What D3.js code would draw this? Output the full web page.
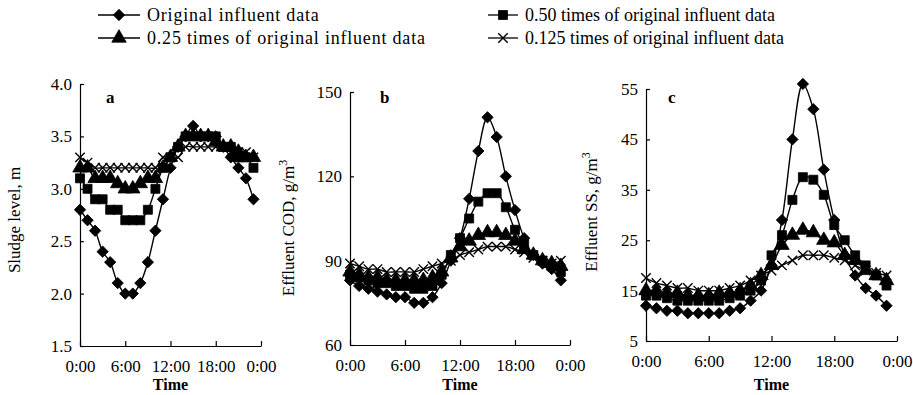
<!DOCTYPE html>
<html lang="en">
<head>
<meta charset="UTF-8">
<title>Sludge level and effluent quality</title>
<script src="https://cdn.jsdelivr.net/npm/d3@7"></script>
<style>
  body { margin: 0; background: #fff; }
  text { font-family: "Liberation Serif", "Times New Roman", serif; fill: #000; }
</style>
</head>
<body>
<script>
// hours of the day, one point per hour
var hours = d3.range(0, 24);
var xTicks = [0, 6, 12, 18, 24];
var xTickLabels = ["0:00", "6:00", "12:00", "18:00", "0:00"];

var seriesNames = ["Original influent data", "0.50 times of original influent data",
                   "0.25 times of original influent data", "0.125 times of original influent data"];

// a: sludge level, m
var sludgeOrig    = [2.8,2.7,2.6,2.4,2.3,2.1,2.0,2.0,2.1,2.3,2.6,2.9,3.2,3.4,3.5,3.6,3.5,3.5,3.5,3.4,3.3,3.2,3.1,2.9];
var sludgeHalf    = [3.1,3.0,2.9,2.9,2.8,2.8,2.7,2.7,2.7,2.8,3.0,3.2,3.3,3.4,3.5,3.5,3.5,3.5,3.5,3.4,3.4,3.3,3.3,3.2];
var sludgeQuarter = [3.2,3.2,3.1,3.1,3.1,3.05,3.0,3.0,3.05,3.1,3.1,3.2,3.3,3.4,3.5,3.5,3.5,3.5,3.45,3.4,3.4,3.35,3.3,3.3];
var sludgeEighth  = [3.3,3.25,3.2,3.2,3.2,3.2,3.2,3.2,3.2,3.2,3.2,3.3,3.3,3.3,3.4,3.4,3.4,3.4,3.4,3.4,3.35,3.35,3.35,3.3];

// b: effluent COD, g/m3
var codOrig    = [83,81,80,79,78,77,77,75,75,77,82,90,98,112,129,141,134,120,108,98,92,89,87,83];
var codHalf    = [85,84,83,82,82,81,81,80,80,81,85,92,98,105,111,114,114,109,101,96,92,90,88,86];
var codQuarter = [86,85,84,84,83,83,83,83,83,84,86,91,95,97,99,100,100,99,97,94,92,90,89,88];
var codEighth  = [89,88,87,87,86,86,86,86,87,88,89,90,92,93,94,95,95,95,94,93,91,90,89,90];

// c: effluent SS, g/m3
var ssOrig    = [12,11.5,11,11,10.5,10.5,10.5,10.5,11,11.5,13,15,20,29,45,56,51,39,29,22,18,15.5,14,12];
var ssHalf    = [14,14,13.5,13,13,13,13,13,13.5,14,15,17,22,26,33,37.5,37,34,28,25,22,20,18,16];
var ssQuarter = [15,15,14.5,14.5,14,14,14,14.5,14.5,15,16,18,20,24,26,27,26.5,25,24.5,22,21,19,18,17];
var ssEighth  = [17.5,16.5,16,15.5,15.5,15,15,15,15.5,16,17,18,19,20,21,22,22,22,21.5,21,20,19,18.5,18];

var sludgeTicks = [1.5, 2.0, 2.5, 3.0, 3.5, 4.0];
var codTicks = [60, 90, 120, 150];
var ssTicks = [5, 15, 25, 35, 45, 55];

var width = 913, height = 395;
var svg = d3.select("body").append("svg")
    .attr("width", width)
    .attr("height", height);

var symbolTypes = [d3.symbolSquare, d3.symbolSquare, d3.symbolTriangle, d3.symbolX];
var symbolSizes = [64, 81, 90, 60];
var symbolRotate = [45, 0, 0, 0];

function drawMarker(g, i, x, y) {
    var p = g.append("path")
        .attr("d", d3.symbol().type(symbolTypes[i]).size(symbolSizes[i])())
        .attr("transform", "translate(" + x + "," + y + ") rotate(" + symbolRotate[i] + ")");
    if (i == 3) {
        p.attr("fill", "none").attr("stroke", "#000").attr("stroke-width", 1.4);
    } else {
        p.attr("fill", "#000").attr("stroke", "#000").attr("stroke-width", 0.8);
    }
}

function drawPanel(p) {
    var x = d3.scaleLinear().domain([0, 24]).range([p.x0, p.x1]);
    var y = d3.scaleLinear().domain(p.yDomain).range([p.y0, p.y1]);
    var g = svg.append("g");

    // x axis, ticks pointing up
    var xAxis = d3.axisBottom(x).tickValues(xTicks)
        .tickFormat(function(d, i) { return xTickLabels[i]; })
        .tickSizeInner(-5).tickSizeOuter(0).tickPadding(14);
    var gx = g.append("g").attr("transform", "translate(0," + p.y0 + ")").call(xAxis);
    gx.selectAll("text").attr("font-size", 17);

    // y axis, ticks pointing right
    var yAxis = d3.axisLeft(y).tickValues(p.yTicks)
        .tickFormat(p.yFormat)
        .tickSizeInner(-4).tickSizeOuter(0).tickPadding(8);
    var gy = g.append("g").attr("transform", "translate(" + p.x0 + ",0)").call(yAxis);
    gy.selectAll("text").attr("font-size", 17);

    g.selectAll(".domain, .tick line").attr("stroke", "#000").attr("stroke-width", 1.2);

    // series
    var line = d3.line()
        .x(function(d, i) { return x(hours[i]); })
        .y(function(d) { return y(d); })
        .curve(d3.curveCatmullRom);

    p.series.forEach(function(s, si) {
        g.append("path").datum(s)
            .attr("d", line)
            .attr("fill", "none")
            .attr("stroke", "#000")
            .attr("stroke-width", 1.4);
        s.forEach(function(v, i) {
            drawMarker(g, si, x(hours[i]), y(v));
        });
    });

    // panel letter
    g.append("text").attr("x", p.x0 + p.letterDx).attr("y", 103)
        .attr("font-size", 17).attr("font-weight", "bold").text(p.letter);

    // axis titles
    g.append("text")
        .attr("x", (p.x0 + p.x1) / 2).attr("y", 390)
        .attr("text-anchor", "middle").attr("font-size", 16).attr("font-weight", "bold")
        .text("Time");

    var t = g.append("text")
        .attr("transform", "translate(" + p.titleX + "," + p.titleY + ") rotate(-90)")
        .attr("text-anchor", "middle").attr("font-size", 17);
    t.append("tspan").text(p.yTitle);
    if (p.sup) {
        t.append("tspan").attr("dy", -7).attr("font-size", 12).text("3");
    }
}

var panels = [
    { letter: "a", x0: 80, x1: 261, y0: 346, y1: 84, yDomain: [1.5, 4.0], yTicks: sludgeTicks,
      yFormat: d3.format(".1f"), series: [sludgeOrig, sludgeHalf, sludgeQuarter, sludgeEighth],
      yTitle: "Sludge level, m", sup: false, titleX: 20, titleY: 220, letterDx: 26 },
    { letter: "b", x0: 350, x1: 570, y0: 345, y1: 92, yDomain: [60, 150], yTicks: codTicks,
      yFormat: d3.format("d"), series: [codOrig, codHalf, codQuarter, codEighth],
      yTitle: "Effluent COD, g/m", sup: true, titleX: 294, titleY: 228, letterDx: 30 },
    { letter: "c", x0: 646, x1: 897, y0: 341, y1: 89, yDomain: [5, 55], yTicks: ssTicks,
      yFormat: d3.format("d"), series: [ssOrig, ssHalf, ssQuarter, ssEighth],
      yTitle: "Effluent SS, g/m", sup: true, titleX: 597, titleY: 212, letterDx: 22 }
];

panels.forEach(drawPanel);

// legend
var legendPos = [
    { x: 98, y: 15 }, { x: 488, y: 15 },
    { x: 98, y: 38 }, { x: 488, y: 38 }
];
var legendLen = [42, 30, 42, 30];
var legendSpacing = [0.8, 0, 0.8, 0];
seriesNames.forEach(function(name, i) {
    var lp = legendPos[i];
    var lg = svg.append("g");
    lg.append("line")
        .attr("x1", lp.x).attr("x2", lp.x + legendLen[i])
        .attr("y1", lp.y).attr("y2", lp.y)
        .attr("stroke", "#000").attr("stroke-width", 1.3);
    drawMarker(lg, i, lp.x + legendLen[i] / 2, lp.y);
    lg.append("text")
        .attr("x", lp.x + legendLen[i] + 7).attr("y", lp.y + 6)
        .attr("font-size", 18)
        .attr("letter-spacing", legendSpacing[i])
        .text(name);
});
</script>
</body>
</html>
